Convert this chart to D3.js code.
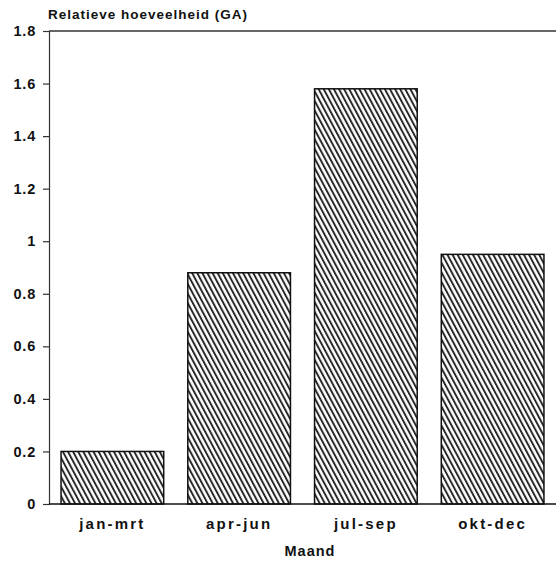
<!DOCTYPE html>
<html><head><meta charset="utf-8">
<script src="https://cdn.jsdelivr.net/npm/d3@7"></script>
<style>
body{margin:0;background:#fff;}
text{font-family:"Liberation Sans",Arial,sans-serif;font-weight:bold;fill:#111;}
</style></head>
<body><svg id="c" width="556" height="564"></svg>
<script>
const categories = ["jan-mrt","apr-jun","jul-sep","okt-dec"];
const values = [0.20, 0.88, 1.58, 0.95];
const yTicks = [0,0.2,0.4,0.6,0.8,1,1.2,1.4,1.6,1.8];
const yTitle = "Relatieve hoeveelheid (GA)";
const xTitle = "Maand";

const svg = d3.select("#c");
const m = {l:49, r:0, t:31, b:60};
const W = 556, H = 564;
const x = d3.scaleBand().domain(categories).range([m.l, W]).paddingInner(0.19).paddingOuter(0.095);
const y = d3.scaleLinear().domain([0,1.8]).range([504, 31]);

const defs = svg.append("defs");
const p = defs.append("pattern").attr("id","hatch").attr("patternUnits","userSpaceOnUse")
  .attr("width",4.5).attr("height",10).attr("patternTransform","rotate(-28)");
p.append("rect").attr("width",4.5).attr("height",10).attr("fill","#fff");
p.append("line").attr("x1",1).attr("x2",1).attr("y1",0).attr("y2",10).attr("stroke","#222").attr("stroke-width",1.9);

svg.append("line").attr("x1",m.l).attr("x2",W).attr("y1",y(1.8)).attr("y2",y(1.8)).attr("stroke","#333").attr("stroke-width",1.3);

svg.selectAll("rect.bar").data(values).enter().append("rect").attr("class","bar")
  .attr("x",(d,i)=>x(categories[i])).attr("width",x.bandwidth())
  .attr("y",d=>y(d)).attr("height",d=>y(0)-y(d))
  .attr("fill","url(#hatch)").attr("stroke","#111").attr("stroke-width",1.5);

const ya = svg.append("g").attr("transform",`translate(${m.l},0)`)
  .call(d3.axisLeft(y).tickValues(yTicks).tickSize(6).tickPadding(7).tickFormat(d=>String(d)));
ya.select(".domain").attr("stroke","#333").attr("stroke-width",1.2);
ya.selectAll(".tick line").attr("stroke","#333").attr("stroke-width",1.2);
ya.selectAll("text").style("font-size","14.5px").style("letter-spacing","0.8px").attr("fill","#111");

const xa = svg.append("g").attr("transform",`translate(0,${y(0)})`)
  .call(d3.axisBottom(x).tickSize(0).tickPadding(14));
xa.select(".domain").attr("d",`M${m.l},0H${W}`).attr("stroke","#111").attr("stroke-width",1.6);
xa.selectAll("text").style("font-size","15px").style("letter-spacing","2.2px").attr("fill","#111");

svg.append("text").attr("x",48).attr("y",19).style("font-size","13.5px").style("letter-spacing","1px").text(yTitle);
svg.append("text").attr("x",310).attr("y",556).attr("text-anchor","middle").style("font-size","14.5px").style("letter-spacing","1px").text(xTitle);
</script></body></html>
